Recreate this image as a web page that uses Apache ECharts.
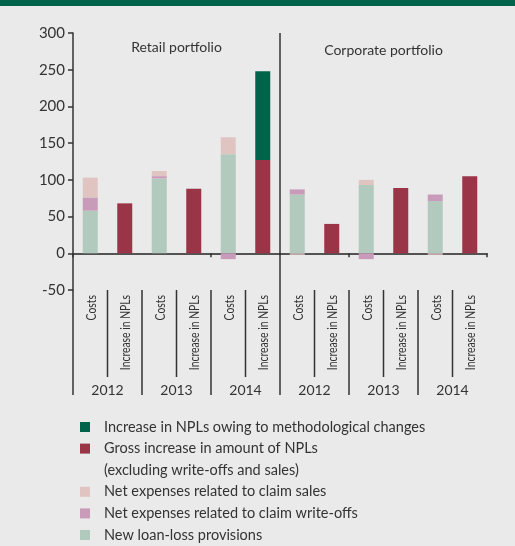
<!DOCTYPE html>
<html>
<head>
<meta charset="utf-8">
<script src="https://cdn.jsdelivr.net/npm/echarts@6/dist/echarts.min.js"></script>
<style>
  html, body { margin: 0; padding: 0; background: #e9eae9; }
  #main { width: 515px; height: 546px; }
</style>
</head>
<body>
<div id="main"></div>
<script>
// categories (two bars per year, three years, two portfolios)
var categories = ['Costs', 'Increase in NPLs', 'Costs', 'Increase in NPLs', 'Costs', 'Increase in NPLs',
                  'Costs', 'Increase in NPLs', 'Costs', 'Increase in NPLs', 'Costs', 'Increase in NPLs'];
var years = ['2012', '2013', '2014', '2012', '2013', '2014'];
var portfolios = ['Retail portfolio', 'Corporate portfolio'];

// series values (HUF bn), '-' where the bar does not exist
var provisions = [58, '-', 102, '-', 135, '-', 80, '-', 93, '-', 71, '-'];
var writeOffs  = [18, '-', 3, '-', -8, '-', 7, '-', -8, '-', 9, '-'];
var claimSales = [27, '-', 7, '-', 23, '-', -2, '-', 7, '-', -2, '-'];
var grossNPL   = ['-', 68, '-', 88, '-', 127, '-', 40, '-', 89, '-', 105];
var methodNPL  = ['-', '-', '-', '-', '-', 121, '-', '-', '-', '-', '-', '-'];

var yMin = -50, yMax = 300, yStep = 50;

// legend, top to bottom
var legendNames = [
    'Increase in NPLs owing to methodological changes',
    'Gross increase in amount of NPLs\n(excluding write-offs and sales)',
    'Net expenses related to claim sales',
    'Net expenses related to claim write-offs',
    'New loan-loss provisions'
];
var legendColors = ['#00634a', '#9a3548', '#e0c4c2', '#c89bb8', '#b2cabd'];

var txt = '#333333';
var font = 'Lato';

var chart = echarts.init(document.getElementById('main'));

function bar(name, data, color) {
    return {
        name: name,
        type: 'bar',
        stack: 'total',
        barWidth: 15,
        data: data,
        itemStyle: { color: color },
        emphasis: { disabled: true }
    };
}

var option = {
    animation: false,
    backgroundColor: '#e9eae9',
    grid: { left: 73, right: 28, top: 33, bottom: 256 },
    xAxis: {
        type: 'category',
        data: categories,
        axisLine: { onZero: true, lineStyle: { color: '#222', width: 1.5 } },
        axisTick: { show: true, length: 4, lineStyle: { color: '#333', width: 1.5 } },
        axisLabel: { show: false }
    },
    yAxis: {
        type: 'value',
        min: yMin, max: yMax, interval: yStep,
        axisLine: { show: true, lineStyle: { color: '#333', width: 1.5 } },
        axisTick: { show: true, length: 5, lineStyle: { color: '#333', width: 1.5 } },
        axisLabel: { fontFamily: font, fontSize: 15, color: txt, margin: 8 },
        splitLine: { show: false }
    },
    series: [
        bar('New loan-loss provisions', provisions, legendColors[4]),
        bar('Net expenses related to claim write-offs', writeOffs, legendColors[3]),
        bar('Net expenses related to claim sales', claimSales, legendColors[2]),
        bar('Gross increase in amount of NPLs', grossNPL, legendColors[1]),
        bar('Increase in NPLs owing to methodological changes', methodNPL, legendColors[0])
    ]
};
chart.setOption(option);

// extra lines, group labels and legend, placed with the chart's own scales
var c0 = chart.convertToPixel({ xAxisIndex: 0 }, 0);
var band = chart.convertToPixel({ xAxisIndex: 0 }, 1) - c0;
function edge(i) { return c0 - band / 2 + i * band; }
var yTop = chart.convertToPixel({ yAxisIndex: 0 }, yMax);
var yBot = chart.convertToPixel({ yAxisIndex: 0 }, yMin);
var lineLong = 395, lineShort = 377;

var g = [];
g.push({ type: 'rect', shape: { x: 0, y: 0, width: 515, height: 6 }, style: { fill: '#00634a' } });
function vline(x, y1, y2) {
    g.push({ type: 'line', shape: { x1: x, y1: y1, x2: x, y2: y2 },
             style: { stroke: '#333', lineWidth: 1.5 } });
}
vline(edge(0), yBot, lineLong);
vline(edge(6), yTop, lineLong);
[2, 4, 8, 10].forEach(function (i) { vline(edge(i), yBot, lineLong); });
[1, 3, 5, 7, 9, 11].forEach(function (i) { vline(edge(i), yBot, lineShort); });

// rotated, condensed category labels
categories.forEach(function (c, i) {
    g.push({ type: 'text', x: c0 + i * band + 1, y: yBot + 5, rotation: Math.PI / 2, scaleX: 0.74,
             style: { text: c, fill: txt, font: '14px ' + font, align: 'right', verticalAlign: 'middle' } });
});

years.forEach(function (y, k) {
    g.push({ type: 'text', x: edge(2 * k + 1), y: 390,
             style: { text: y, fill: txt, font: '14px ' + font, align: 'center', verticalAlign: 'middle' } });
});
portfolios.forEach(function (p, k) {
    g.push({ type: 'text', x: edge(6 * k + 3), y: 47 + 3 * k,
             style: { text: p, fill: txt, font: '14px ' + font, align: 'center', verticalAlign: 'middle' } });
});

var rowH = 21.6, ly = 427;
legendNames.forEach(function (n, i) {
    g.push({ type: 'rect', shape: { x: 80, y: ly - 5, width: 10, height: 10 }, style: { fill: legendColors[i] } });
    g.push({ type: 'text', x: 104, y: ly - rowH / 2,
             style: { text: n, fill: txt, font: '14.5px ' + font, lineHeight: rowH, verticalAlign: 'top' } });
    ly += rowH * n.split('\n').length;
});
chart.setOption({ graphic: g });
</script>
</body>
</html>
